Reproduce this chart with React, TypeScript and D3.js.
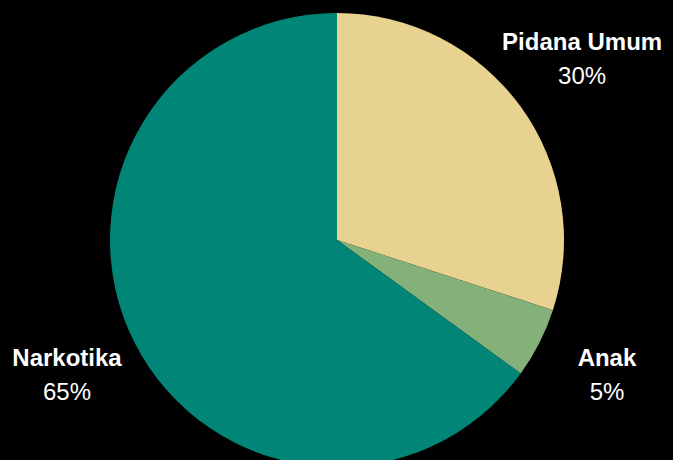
import React from "react";
import * as d3 from "d3";

const categories = ["Pidana Umum", "Anak", "Narkotika"];
const values = [30, 5, 65];
const colors = ["#E8D28F", "#84B07A", "#008577"];

const W = 673;
const H = 460;
const cx = 337;
const cy = 240;
const R = 227;
const labelR = 303;
const fontSize = 24;

export default function App() {
  const data = categories.map((c, i) => ({ name: c, value: values[i], color: colors[i] }));
  const pie = d3.pie<any>().value((d) => d.value).sort(null);
  const arcs = pie(data);
  const arcGen = d3.arc<any>().innerRadius(0).outerRadius(R);
  const total = d3.sum(values);
  return (
    <svg
      width={W}
      height={H}
      style={{ position: "absolute", left: 0, top: 0, background: "#000" }}
      fontFamily="'Liberation Sans', Arial, sans-serif"
    >
      <rect width={W} height={H} fill="#000" />
      <g transform={`translate(${cx},${cy})`}>
        {arcs.map((a, i) => (
          <path key={i} d={arcGen(a) as string} fill={a.data.color} />
        ))}
        {arcs.map((a, i) => {
          const mid = (a.startAngle + a.endAngle) / 2;
          const x = Math.sin(mid) * labelR;
          const y = -Math.cos(mid) * labelR - 4;
          return (
            <g key={"l" + i} transform={`translate(${x},${y})`}>
              <text textAnchor="middle" y={-8} fill="#fff" fontWeight="bold" fontSize={fontSize}>
                {a.data.name}
              </text>
              <text textAnchor="middle" y={26} fill="#fff" fontSize={fontSize}>
                {Math.round((a.data.value / total) * 100)}%
              </text>
            </g>
          );
        })}
      </g>
    </svg>
  );
}
